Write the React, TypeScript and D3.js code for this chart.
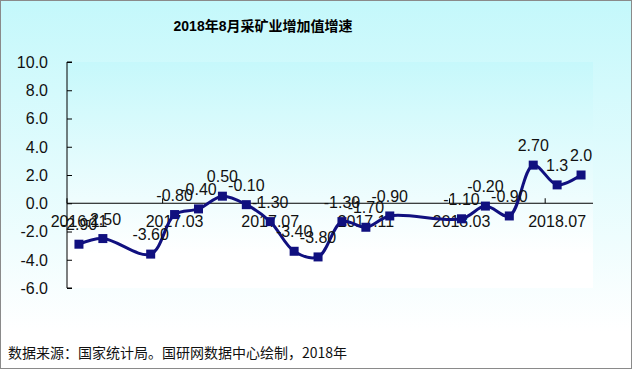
import React, { useRef, useEffect } from 'react';
import * as d3 from 'd3';

// monthly categories on the x axis (Jan / Jan-Feb not published)
const months = [
    '2016.11', '2016.12', '2017.01', '2017.02', '2017.03', '2017.04', '2017.05', '2017.06',
    '2017.07', '2017.08', '2017.09', '2017.10', '2017.11', '2017.12', '2018.01', '2018.02',
    '2018.03', '2018.04', '2018.05', '2018.06', '2018.07', '2018.08',
];
const growth: (number | null)[] = [
    -2.9, -2.5, null, -3.6, -0.8, -0.4, 0.5, -0.1,
    -1.3, -3.4, -3.8, -1.3, -1.7, -0.9, null, null,
    -1.1, -0.2, -0.9, 2.7, 1.3, 2.0,
];
const pointLabels = [
    '-2.90', '-2.50', '', '-3.60', '-0.80', '-0.40', '0.50', '-0.10',
    '-1.30', '-3.40', '-3.80', '-1.30', '-1.70', '-0.90', '', '',
    '-1.10', '-0.20', '-0.90', '2.70', '1.3', '2.0',
];
const xTickLabels = ['2016.11', '2017.03', '2017.07', '2017.11', '2018.03', '2018.07'];
const yTicks = [10, 8, 6, 4, 2, 0, -2, -4, -6];

const title = '2018年8月采矿业增加值增速';
const source = '数据来源：国家统计局。国研网数据中心绘制，2018年';

const W = 632;
const H = 369;

const App: React.FC = () => {
    const svgRef = useRef<SVGSVGElement | null>(null);

    useEffect(() => {
        const svg = d3.select(svgRef.current);
        svg.selectAll('*').remove();
        svg.attr('width', W).attr('height', H);

        const lineColor = '#10107f';
        const latin = 'Arial, "Liberation Sans", sans-serif';
        const cjk = 'Arial, "Liberation Sans", "Noto Sans CJK SC", sans-serif';

        // gradients
        const defs = svg.append('defs');
        const bg = defs.append('linearGradient').attr('id', 'bgGrad')
            .attr('x1', 0).attr('y1', 0).attr('x2', 0).attr('y2', 1);
        bg.append('stop').attr('offset', '0%').attr('stop-color', '#c4f8fb');
        bg.append('stop').attr('offset', '90%').attr('stop-color', '#ffffff');
        const pg = defs.append('linearGradient').attr('id', 'plotGrad')
            .attr('x1', 0).attr('y1', 0).attr('x2', 0).attr('y2', 1);
        pg.append('stop').attr('offset', '0%').attr('stop-color', '#c6f8fb');
        pg.append('stop').attr('offset', '85%').attr('stop-color', '#ffffff');

        svg.append('rect')
            .attr('x', 0.5).attr('y', 0.5)
            .attr('width', W - 1).attr('height', H - 1)
            .attr('fill', 'url(#bgGrad)')
            .attr('stroke', '#8a8a8a');

        // scales
        const x = d3.scaleBand<string>().domain(months).range([67, 593]).padding(0);
        const y = d3.scaleLinear().domain([-6, 10]).range([288, 62]);
        const cx = (m: string) => (x(m) as number) + x.bandwidth() / 2;

        svg.append('rect')
            .attr('x', 67).attr('y', y(10))
            .attr('width', 593 - 67).attr('height', y(-6) - y(10))
            .attr('fill', 'url(#plotGrad)');

        // title
        svg.append('text')
            .attr('x', 263).attr('y', 31)
            .attr('text-anchor', 'middle')
            .attr('font-family', cjk)
            .attr('font-weight', 'bold')
            .attr('font-size', 14)
            .attr('fill', '#000')
            .text(title);

        // y axis
        const yAxis = d3.axisRight(y).tickValues(yTicks).tickSize(5).tickFormat(() => '');
        const yg = svg.append('g').attr('transform', 'translate(67,0)').call(yAxis);
        yg.select('.domain').attr('d', `M5,${y(10)}H0V${y(-6)}H5`).attr('stroke', '#000');
        yg.selectAll('.tick line').attr('stroke', '#000');

        svg.append('g')
            .selectAll('text')
            .data(yTicks)
            .enter()
            .append('text')
            .attr('x', 48)
            .attr('y', d => y(d))
            .attr('dy', '0.36em')
            .attr('text-anchor', 'end')
            .attr('font-family', latin)
            .attr('font-size', 16)
            .attr('fill', '#111')
            .text(d => d.toFixed(1));

        // x axis at zero
        svg.append('line')
            .attr('x1', 67).attr('x2', 593)
            .attr('y1', y(0)).attr('y2', y(0))
            .attr('stroke', '#000');
        svg.append('g')
            .selectAll('line')
            .data(xTickLabels)
            .enter()
            .append('line')
            .attr('x1', d => x(d) as number)
            .attr('x2', d => x(d) as number)
            .attr('y1', y(0))
            .attr('y2', y(0) - 5)
            .attr('stroke', '#000');
        svg.append('g')
            .selectAll('text')
            .data(xTickLabels)
            .enter()
            .append('text')
            .attr('x', d => cx(d))
            .attr('y', y(0) + 24)
            .attr('text-anchor', 'middle')
            .attr('font-family', latin)
            .attr('font-size', 16)
            .attr('fill', '#111')
            .text(d => d);

        // series
        const pts = months
            .map((m, i) => ({ m, v: growth[i], label: pointLabels[i] }))
            .filter(d => d.v !== null) as { m: string; v: number; label: string }[];

        const line = d3.line<{ m: string; v: number }>()
            .x(d => cx(d.m))
            .y(d => y(d.v))
            .curve(d3.curveCatmullRom.alpha(0.5));

        svg.append('path')
            .datum(pts)
            .attr('d', line as any)
            .attr('fill', 'none')
            .attr('stroke', lineColor)
            .attr('stroke-width', 3);

        svg.append('g')
            .selectAll('rect')
            .data(pts)
            .enter()
            .append('rect')
            .attr('x', d => cx(d.m) - 4.5)
            .attr('y', d => y(d.v) - 4.5)
            .attr('width', 9)
            .attr('height', 9)
            .attr('fill', lineColor);

        svg.append('g')
            .selectAll('text')
            .data(pts)
            .enter()
            .append('text')
            .attr('x', d => cx(d.m))
            .attr('y', d => y(d.v) - 14)
            .attr('text-anchor', 'middle')
            .attr('font-family', latin)
            .attr('font-size', 16)
            .attr('fill', '#111')
            .text(d => d.label);

        // source note
        svg.append('text')
            .attr('x', 8).attr('y', 358)
            .attr('font-family', '"Noto Sans CJK SC", sans-serif')
            .attr('font-size', 14)
            .attr('fill', '#111')
            .text(source);
    }, []);

    return (
        <svg ref={svgRef} style={{ position: 'absolute', left: 0, top: 0, display: 'block' }}></svg>
    );
};

export default App;
